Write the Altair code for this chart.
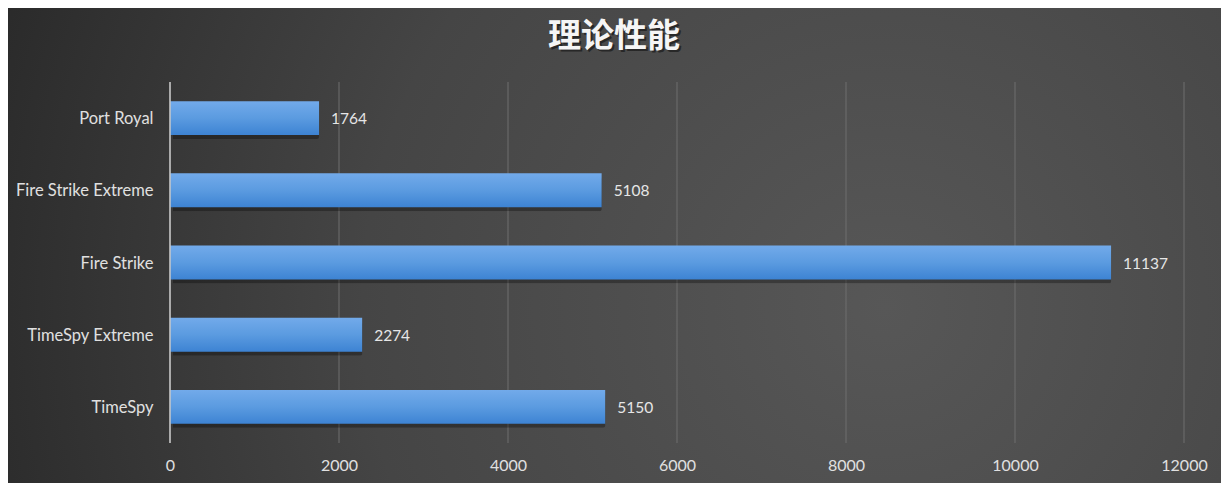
import altair as alt
import pandas as pd

categories = ["Port Royal", "Fire Strike Extreme", "Fire Strike", "TimeSpy Extreme", "TimeSpy"]
scores = [1764, 5108, 11137, 2274, 5150]
x_ticks = [0, 2000, 4000, 6000, 8000, 10000, 12000]
title_text = "理论性能"

df = pd.DataFrame({"test": categories, "score": scores})

W, H = 1014, 361
PL, PT, PR, PB = 162, 74, 37, 40
FONT = "Lato"

yenc = alt.Y("test:N", sort=categories,
             scale=alt.Scale(paddingInner=0.53, paddingOuter=0.265),
             axis=alt.Axis(title=None, labelFontSize=16.5, labelColor="#e0e0e0",
                           labelFont=FONT, labelPadding=17, labelOffset=1, ticks=False,
                           domain=False, grid=False, zindex=2))
xenc = alt.X("score:Q", scale=alt.Scale(domain=[0, 12000], nice=False),
             axis=alt.Axis(title=None, values=x_ticks, format="d", labelFontSize=16,
                           labelColor="#e0e0e0", labelFont=FONT, labelPadding=14,
                           ticks=False, domain=False, grid=False, labelFlush=False,
                           zindex=2))

bg = alt.Chart(df).mark_rect(
    fill=alt.Gradient(gradient="radial", x1=0.72, y1=0.55, r1=0.0,
                      x2=0.72, y2=0.55, r2=0.85,
                      stops=[alt.GradientStop(color="#575757", offset=0),
                             alt.GradientStop(color="#454545", offset=0.5),
                             alt.GradientStop(color="#232323", offset=1)])
).encode(x=alt.value(-PL - 8), x2=alt.value(W + PR + 8),
         y=alt.value(-PT - 8), y2=alt.value(H + PB + 8))

grid = alt.Chart(pd.DataFrame({"v": x_ticks})).mark_rule(color="#6e6e6e", strokeWidth=1).encode(
    x=alt.X("v:Q", scale=alt.Scale(domain=[0, 12000], nice=False)),
    y=alt.value(0), y2=alt.value(H))

zero = alt.Chart(pd.DataFrame({"v": [0]})).mark_rule(color="#c8c8c8", strokeWidth=1.5).encode(
    x=alt.X("v:Q", scale=alt.Scale(domain=[0, 12000], nice=False)),
    y=alt.value(0), y2=alt.value(H))

shadow = alt.Chart(df).mark_bar(color="#000000", opacity=0.3, xOffset=3, yOffset=4,
                                cornerRadius=2).encode(x=xenc, y=yenc)

bars = alt.Chart(df).mark_bar(
    color=alt.Gradient(gradient="linear", x1=0, y1=0, x2=0, y2=1,
                       stops=[alt.GradientStop(color="#72aaea", offset=0),
                              alt.GradientStop(color="#5b9be0", offset=0.5),
                              alt.GradientStop(color="#3d83d3", offset=1)])
).encode(x=xenc, y=yenc)

labels = alt.Chart(df).mark_text(align="left", dx=12, dy=1, fontSize=15.5, font=FONT,
                                 color="#e6e6e6").encode(x=xenc, y=yenc, text="score:Q")

title_shadow = alt.Chart(pd.DataFrame({"t": [title_text]})).mark_text(
    fontSize=33, font="Noto Sans CJK SC", fontWeight="bold", color="#111111", opacity=0.6,
    align="center", baseline="middle").encode(
    x=alt.value(444 + 2), y=alt.value(37 - 82 + 2), text="t:N")
title = alt.Chart(pd.DataFrame({"t": [title_text]})).mark_text(
    fontSize=33, font="Noto Sans CJK SC", fontWeight="bold", color="#f5f5f5",
    align="center", baseline="middle").encode(
    x=alt.value(444), y=alt.value(37 - 82), text="t:N")

chart = alt.layer(bg, grid, shadow, bars, zero, labels, title_shadow, title).properties(
    width=W, height=H,
    padding={"left": PL, "top": PT, "right": PR, "bottom": PB},
    autosize=alt.AutoSizeParams(type="none"),
    background="#333333",
).configure_view(stroke=None)

chart.save("out.html", embed_options={"renderer": "svg", "actions": False})
